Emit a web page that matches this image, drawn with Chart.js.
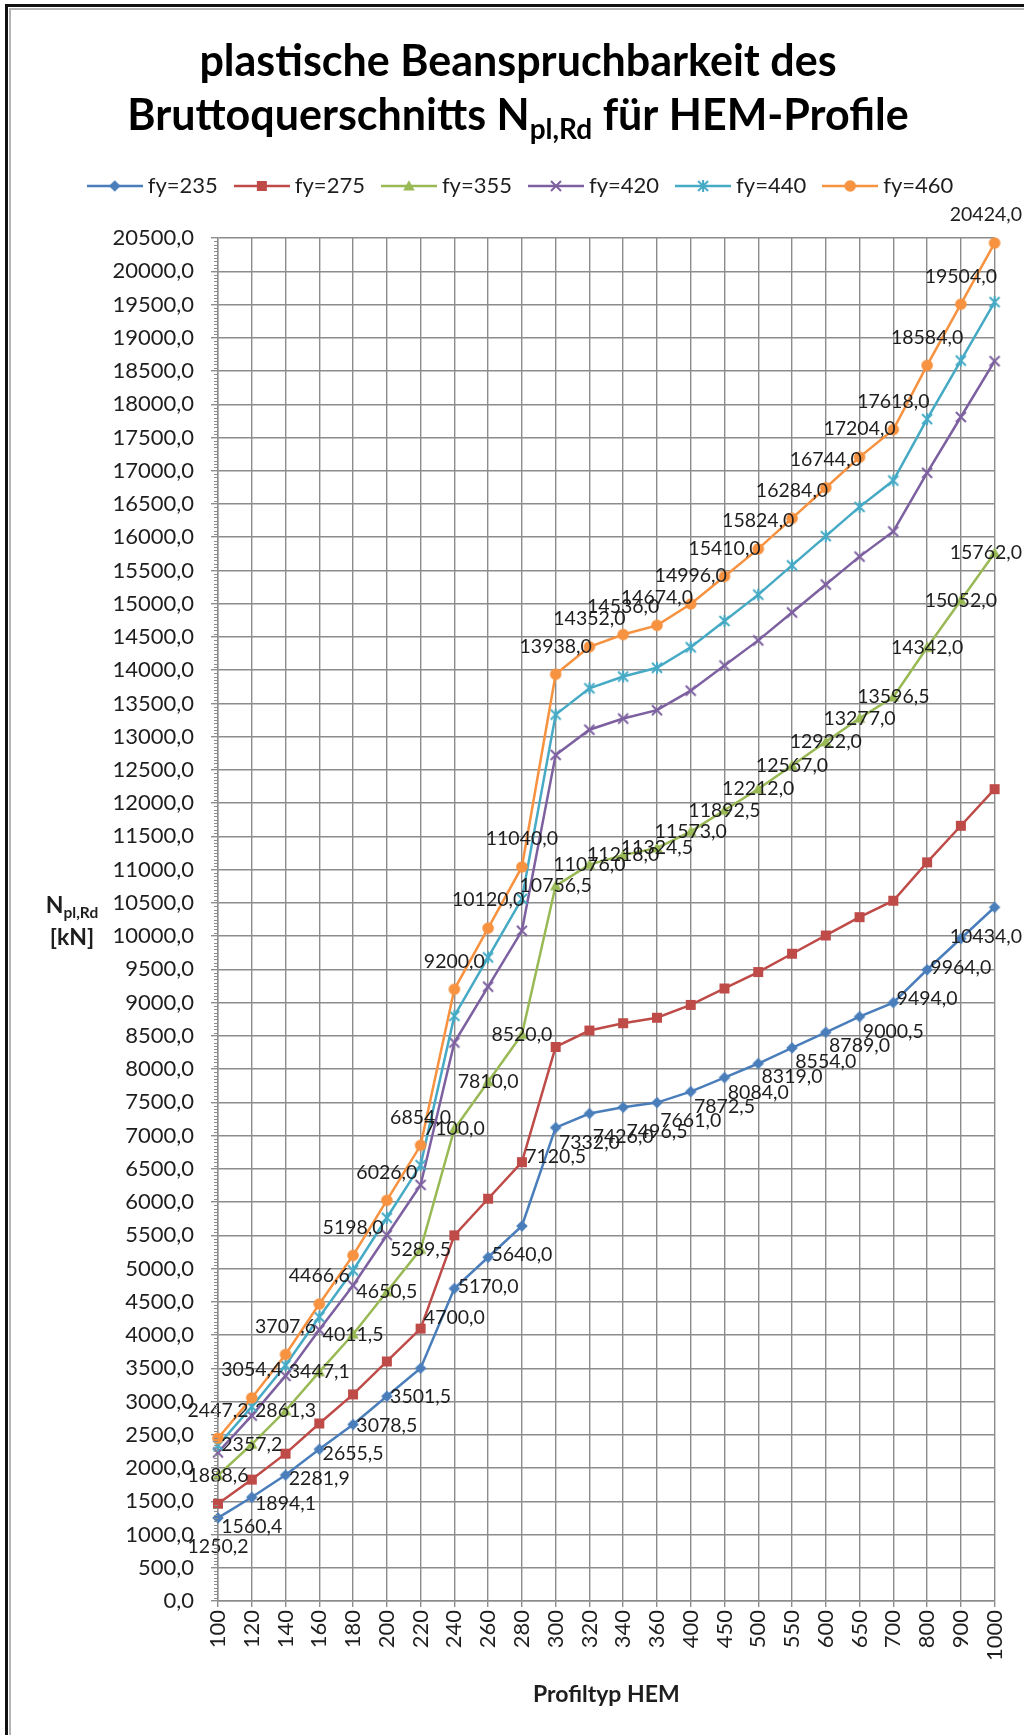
<!DOCTYPE html>
<html lang="de">
<head>
<meta charset="utf-8">
<title>plastische Beanspruchbarkeit des Bruttoquerschnitts Npl,Rd für HEM-Profile</title>
<script src="https://cdn.jsdelivr.net/npm/chart.js@4.4.1/dist/chart.umd.min.js"></script>
<style>
  html, body { margin: 0; padding: 0; background: #ffffff; }
  #wrap { position: relative; width: 1024px; height: 1735px; }
  canvas { display: block; }
</style>
</head>
<body>
<div id="wrap"><canvas id="chart" width="1024" height="1735"></canvas></div>
<script>
// HEM profile sizes (category axis)
const profiles = ['100', '120', '140', '160', '180', '200', '220', '240', '260', '280', '300',
                  '320', '340', '360', '400', '450', '500', '550', '600', '650', '700', '800', '900', '1000'];

// Npl,Rd in kN for each yield strength
const fy235 = [1250.2, 1560.4, 1894.1, 2281.9, 2655.5, 3078.5, 3501.5, 4700.0, 5170.0, 5640.0, 7120.5,
               7332.0, 7426.0, 7496.5, 7661.0, 7872.5, 8084.0, 8319.0, 8554.0, 8789.0, 9000.5, 9494.0, 9964.0, 10434.0];
const fy275 = [1463.0, 1826.0, 2216.5, 2670.3, 3107.5, 3602.5, 4097.5, 5500.0, 6050.0, 6600.0, 8332.5,
               8580.0, 8690.0, 8772.5, 8965.0, 9212.5, 9460.0, 9735.0, 10010.0, 10285.0, 10532.5, 11110.0, 11660.0, 12210.0];
const fy355 = [1888.6, 2357.2, 2861.3, 3447.1, 4011.5, 4650.5, 5289.5, 7100.0, 7810.0, 8520.0, 10756.5,
               11076.0, 11218.0, 11324.5, 11573.0, 11892.5, 12212.0, 12567.0, 12922.0, 13277.0, 13596.5, 14342.0, 15052.0, 15762.0];
const fy420 = [2234.4, 2788.8, 3385.2, 4078.2, 4746.0, 5502.0, 6258.0, 8400.0, 9240.0, 10080.0, 12726.0,
               13104.0, 13272.0, 13398.0, 13692.0, 14070.0, 14448.0, 14868.0, 15288.0, 15708.0, 16086.0, 16968.0, 17808.0, 18648.0];
const fy440 = [2340.8, 2921.6, 3546.4, 4272.4, 4972.0, 5764.0, 6556.0, 8800.0, 9680.0, 10560.0, 13332.0,
               13728.0, 13904.0, 14036.0, 14344.0, 14740.0, 15136.0, 15576.0, 16016.0, 16456.0, 16852.0, 17776.0, 18656.0, 19536.0];
const fy460 = [2447.2, 3054.4, 3707.6, 4466.6, 5198.0, 6026.0, 6854.0, 9200.0, 10120.0, 11040.0, 13938.0,
               14352.0, 14536.0, 14674.0, 14996.0, 15410.0, 15824.0, 16284.0, 16744.0, 17204.0, 17618.0, 18584.0, 19504.0, 20424.0];

const seriesNames   = ['fy=235', 'fy=275', 'fy=355', 'fy=420', 'fy=440', 'fy=460'];
const seriesValues  = [fy235, fy275, fy355, fy420, fy440, fy460];
const seriesColors  = ['#4A7EBB', '#BE4B48', '#98B954', '#7D60A0', '#46AAC5', '#F69240'];
const seriesMarkers = ['diamond', 'square', 'triangle', 'cross', 'star', 'circle'];
const seriesLabelAt = ['below', null, 'center', null, null, 'above'];

// Y axis range and step (kN)
const yMin = 0, yMax = 20500, yStep = 500, yMinorStep = 50;

const FONT = 'Lato, "Open Sans", "DejaVu Sans", sans-serif';
const TEXT = '#1e1e1e';
const GRID = '#8c8c8c';

function fmt(v) { return v.toFixed(1).replace('.', ','); }

// Marker glyph drawn into a small canvas; optionally with a line through it for the legend
function drawMarker(g, kind, cx, cy, color) {
  g.fillStyle = color;
  g.strokeStyle = color;
  g.lineCap = 'butt';
  switch (kind) {
    case 'diamond':
      g.beginPath();
      g.moveTo(cx, cy - 5.8); g.lineTo(cx + 5.8, cy); g.lineTo(cx, cy + 5.8); g.lineTo(cx - 5.8, cy);
      g.closePath(); g.fill();
      break;
    case 'square':
      g.fillRect(cx - 5, cy - 5, 10, 10);
      break;
    case 'triangle':
      g.beginPath();
      g.moveTo(cx, cy - 5.8); g.lineTo(cx + 5.8, cy + 4.6); g.lineTo(cx - 5.8, cy + 4.6);
      g.closePath(); g.fill();
      break;
    case 'cross':
      g.lineWidth = 2;
      g.beginPath();
      g.moveTo(cx - 5, cy - 5); g.lineTo(cx + 5, cy + 5);
      g.moveTo(cx + 5, cy - 5); g.lineTo(cx - 5, cy + 5);
      g.stroke();
      break;
    case 'star':
      g.lineWidth = 2;
      g.beginPath();
      g.moveTo(cx - 5, cy - 5); g.lineTo(cx + 5, cy + 5);
      g.moveTo(cx + 5, cy - 5); g.lineTo(cx - 5, cy + 5);
      g.moveTo(cx, cy - 6); g.lineTo(cx, cy + 6);
      g.stroke();
      break;
    case 'circle':
      g.beginPath(); g.arc(cx, cy, 5.8, 0, Math.PI * 2); g.fill();
      break;
  }
}

function markerCanvas(kind, color, withLine) {
  const c = document.createElement('canvas');
  c.width = withLine ? 56 : 16;
  c.height = 16;
  const g = c.getContext('2d');
  const cx = c.width / 2, cy = c.height / 2;
  if (withLine) {
    g.strokeStyle = color; g.lineWidth = 2.5;
    g.beginPath(); g.moveTo(0, cy); g.lineTo(c.width, cy); g.stroke();
  }
  drawMarker(g, kind, cx, cy, color);
  return c;
}

const pointIcons  = seriesMarkers.map((m, i) => markerCanvas(m, seriesColors[i], false));
const legendIcons = seriesMarkers.map((m, i) => markerCanvas(m, seriesColors[i], true));

const datasets = seriesNames.map((name, i) => ({
  label: name,
  data: seriesValues[i],
  borderColor: seriesColors[i],
  backgroundColor: seriesColors[i],
  borderWidth: 2.5,
  pointStyle: pointIcons[i],
  pointRadius: 6,
  pointHoverRadius: 6,
  tension: 0,
  clip: false,
  order: seriesNames.length - 1 - i,
  valueLabels: seriesLabelAt[i]
}));

// Extra room between legend row and plot area
const legendGap = {
  id: 'legendGap',
  beforeInit(chart) {
    const lg = chart.legend;
    if (!lg) return;
    const baseFit = Object.getPrototypeOf(lg).fit;
    lg.fit = function () { baseFit.call(this); this.height += 31; };
  }
};

// Value labels next to the points of selected series
const valueLabels = {
  id: 'valueLabels',
  afterDatasetsDraw(chart) {
    const ctx = chart.ctx;
    ctx.save();
    ctx.font = '19.5px ' + FONT;
    ctx.fillStyle = TEXT;
    ctx.textAlign = 'center';
    ctx.textBaseline = 'middle';
    chart.data.datasets.forEach((ds, i) => {
      if (!ds.valueLabels) return;
      const meta = chart.getDatasetMeta(i);
      meta.data.forEach((pt, j) => {
        const txt = fmt(ds.data[j]);
        const w = ctx.measureText(txt).width;
        let x = Math.min(pt.x, chart.width - 2 - w / 2);
        let y = pt.y;
        if (ds.valueLabels === 'below') y += 29;
        else if (ds.valueLabels === 'above') y -= 28;
        ctx.fillText(txt, x, y);
      });
    });
    ctx.restore();
  }
};

// Minor tick marks on the value axis
const minorTicks = {
  id: 'minorTicks',
  afterDraw(chart) {
    const y = chart.scales.y;
    const ctx = chart.ctx;
    ctx.save();
    ctx.strokeStyle = GRID;
    ctx.lineWidth = 1;
    ctx.beginPath();
    for (let v = yMin; v <= yMax; v += yMinorStep) {
      if (v % yStep === 0) continue;
      const py = Math.round(y.getPixelForValue(v)) + 0.5;
      ctx.moveTo(y.right - 4, py);
      ctx.lineTo(y.right, py);
    }
    ctx.stroke();
    ctx.restore();
  }
};

// Title, value axis caption and outer frame
const decorations = {
  id: 'decorations',
  afterDraw(chart) {
    const ctx = chart.ctx;
    ctx.save();
    ctx.fillStyle = '#000000';
    ctx.textBaseline = 'alphabetic';

    // Title, line 1
    const cx = 518;
    const big = 'bold 43px ' + FONT, small = 'bold 28px ' + FONT;
    ctx.font = big;
    ctx.textAlign = 'center';
    ctx.fillText('plastische Beanspruchbarkeit des', cx, 76);

    // Title, line 2 with subscript
    ctx.textAlign = 'left';
    const p1 = 'Bruttoquerschnitts N', p2 = 'pl,Rd', p3 = ' für HEM-Profile';
    ctx.font = big; const w1 = ctx.measureText(p1).width, w3 = ctx.measureText(p3).width;
    ctx.font = small; const w2 = ctx.measureText(p2).width;
    let x = cx - (w1 + w2 + w3) / 2;
    ctx.font = big; ctx.fillText(p1, x, 130); x += w1;
    ctx.font = small; ctx.fillText(p2, x, 139); x += w2;
    ctx.font = big; ctx.fillText(p3, x, 130);

    // Value axis caption
    ctx.fillStyle = TEXT;
    const ax = 72;
    const a1 = 'bold 23px ' + FONT, a2 = 'bold 15.5px ' + FONT;
    ctx.font = a1; const nW = ctx.measureText('N').width;
    ctx.font = a2; const sW = ctx.measureText('pl,Rd').width;
    let ux = ax - (nW + sW) / 2;
    ctx.font = a1; ctx.fillText('N', ux, 913);
    ctx.font = a2; ctx.fillText('pl,Rd', ux + nW, 918);
    ctx.font = a1; ctx.textAlign = 'center'; ctx.fillText('[kN]', ax, 945);

    // Outer frame
    ctx.strokeStyle = '#111111';
    ctx.lineWidth = 3;
    ctx.beginPath();
    ctx.moveTo(6.5, chart.height); ctx.lineTo(6.5, 5.5); ctx.lineTo(chart.width, 5.5);
    ctx.stroke();
    ctx.strokeStyle = '#b4b4b4';
    ctx.lineWidth = 2;
    ctx.beginPath();
    ctx.moveTo(10, chart.height); ctx.lineTo(10, 9); ctx.lineTo(chart.width, 9);
    ctx.stroke();
    ctx.restore();
  }
};

new Chart(document.getElementById('chart'), {
  type: 'line',
  data: { labels: profiles, datasets },
  options: {
    responsive: false,
    animation: false,
    devicePixelRatio: 1,
    layout: { padding: { left: 48, right: 26, top: 153, bottom: 0 } },
    plugins: {
      title: { display: false },
      tooltip: { enabled: false },
      legend: {
        display: true,
        position: 'top',
        labels: {
          usePointStyle: true,
          pointStyleWidth: 44,
          padding: 22,
          color: TEXT,
          font: { family: FONT, size: 22 },
          sort: (a, b) => a.datasetIndex - b.datasetIndex,
          generateLabels(chart) {
            const items = Chart.defaults.plugins.legend.labels.generateLabels(chart);
            items.forEach(it => { it.pointStyle = legendIcons[it.datasetIndex]; });
            return items;
          }
        }
      }
    },
    scales: {
      x: {
        type: 'category',
        offset: false,
        afterFit(scale) { scale.height = 134; },
        grid: { color: GRID, lineWidth: 1.4, tickLength: 6, drawTicks: true },
        border: { color: GRID, width: 1.4 },
        ticks: {
          autoSkip: false, maxRotation: 90, minRotation: 90, padding: 3,
          color: TEXT, font: { family: FONT, size: 22 }
        },
        title: {
          display: true, text: 'Profiltyp HEM', color: TEXT,
          font: { family: FONT, size: 23, weight: 'bold' },
          padding: { top: 0, bottom: 27 }
        }
      },
      y: {
        type: 'linear',
        min: yMin, max: yMax,
        afterFit(scale) { scale.width = 170; },
        grid: { color: GRID, lineWidth: 1.4, tickLength: 7, drawTicks: true },
        border: { color: GRID, width: 1.4 },
        ticks: {
          stepSize: yStep, autoSkip: false, padding: 17,
          color: TEXT, font: { family: FONT, size: 22 },
          callback: v => fmt(v)
        }
      }
    }
  },
  plugins: [legendGap, valueLabels, minorTicks, decorations]
});
</script>
</body>
</html>
